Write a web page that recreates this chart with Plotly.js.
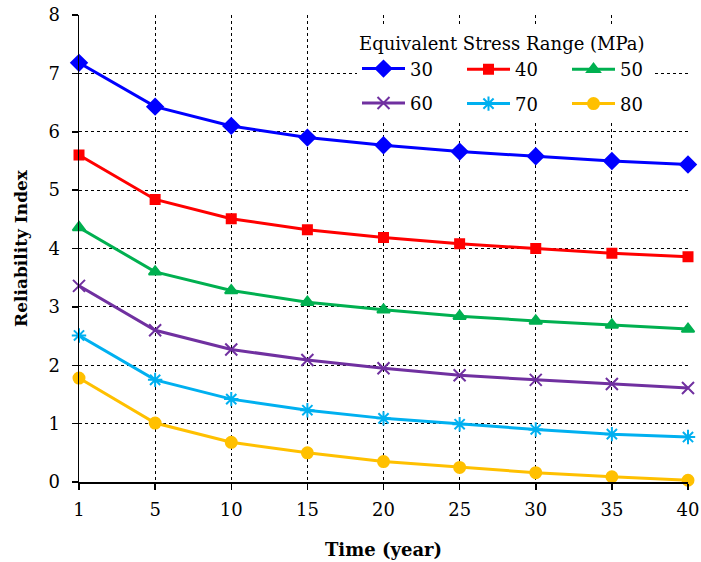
<!DOCTYPE html>
<html>
<head>
<meta charset="utf-8">
<script src="https://cdn.plot.ly/plotly-3.0.1.min.js"></script>
<style>html,body{margin:0;padding:0;background:#fff}#chart{width:701px;height:562px}</style>
</head>
<body>
<div id="chart"></div>
<script>
const years = ['1','5','10','15','20','25','30','35','40'];
const s30 = [7.18, 6.43, 6.10, 5.90, 5.77, 5.66, 5.58, 5.50, 5.44];
const s40 = [5.60, 4.84, 4.51, 4.32, 4.19, 4.08, 4.00, 3.92, 3.86];
const s50 = [4.36, 3.60, 3.28, 3.08, 2.95, 2.84, 2.76, 2.69, 2.62];
const s60 = [3.36, 2.60, 2.27, 2.09, 1.95, 1.83, 1.75, 1.68, 1.61];
const s70 = [2.51, 1.75, 1.42, 1.23, 1.09, 0.99, 0.90, 0.82, 0.77];
const s80 = [1.78, 1.01, 0.68, 0.50, 0.35, 0.25, 0.16, 0.09, 0.03];
const seriesNames = ['30','40','50','60','70','80'];
const seriesData = [s30, s40, s50, s60, s70, s80];
const colors = ['#0000FF','#FF0000','#00B050','#7030A0','#00B0F0','#FFC000'];
const symbols = ['diamond','square','triangle-up','x-thin-open','asterisk-open','circle'];
const sizes = [12, 9, 11, 12, 12, 11];
const legendIds = ['legend','legend2','legend3','legend','legend2','legend3'];

const FONT = 'DejaVu Serif, serif';
const traces = seriesData.map((vals, i) => ({
  x: years, y: vals, name: seriesNames[i], type: 'scatter', mode: 'lines+markers',
  line: {color: colors[i], width: 3},
  marker: {color: colors[i], symbol: symbols[i], size: sizes[i], line: {color: colors[i], width: 2}},
  cliponaxis: false,
  legend: legendIds[i],
  legendgroup: 'g' + seriesNames[i]
}));

const legendCommon = {
  orientation: 'v', bgcolor: 'rgba(255,255,255,0)', borderwidth: 0,
  font: {family: FONT, size: 18, color: '#000'},
  xanchor: 'left', yanchor: 'top', itemclick: false,
  traceorder: 'grouped', tracegroupgap: 8, itemwidth: 43
};
const W = 609, H = 467, L = 79, T = 15;
const px = p => (p - L) / W;
const py = p => 1 - (p - T) / H;

const layout = {
  width: 701, height: 562,
  margin: {l: 79, r: 13, t: 15, b: 80},
  paper_bgcolor: '#fff', plot_bgcolor: '#fff',
  font: {family: FONT, color: '#000'},
  showlegend: true,
  xaxis: {
    type: 'category', range: [0, 8],
    showgrid: true, gridcolor: '#000', griddash: 'dot', gridwidth: 1,
    showline: true, linecolor: '#000', linewidth: 1.5,
    ticks: 'outside', ticklen: 6, tickcolor: '#000', tickwidth: 1.5,
    ticklabelstandoff: 5,
    tickfont: {family: FONT, size: 18, color: '#000'},
    zeroline: false, automargin: false,
    title: {text: '<b>Time (year)</b>', font: {family: FONT, size: 18, color: '#000'}, standoff: 24}
  },
  yaxis: {
    range: [0, 8], dtick: 1,
    showgrid: true, gridcolor: '#000', griddash: 'dot', gridwidth: 1,
    showline: true, linecolor: '#000', linewidth: 1.5,
    ticks: 'outside', ticklen: 6, tickcolor: '#000', tickwidth: 1.5,
    ticklabelstandoff: 8,
    tickfont: {family: FONT, size: 18, color: '#000'},
    zeroline: false, automargin: false,
    title: {text: '<b>Reliability Index</b>', font: {family: FONT, size: 17, color: '#000'}, standoff: 16}
  },
  legend: Object.assign({}, legendCommon, {
    x: px(357), y: py(27), bgcolor: '#ffffff',
    title: {text: 'Equivalent Stress Range (MPa)&#8202;&#8202;&#8202;&#8202;', side: 'top', font: {family: FONT, size: 18, color: '#000'}}
  }),
  legend2: Object.assign({}, legendCommon, {x: px(462), y: py(51)}),
  legend3: Object.assign({}, legendCommon, {x: px(567), y: py(51)})
};

Plotly.newPlot('chart', traces, layout, {displayModeBar: false, staticPlot: true});
</script>
</body>
</html>
